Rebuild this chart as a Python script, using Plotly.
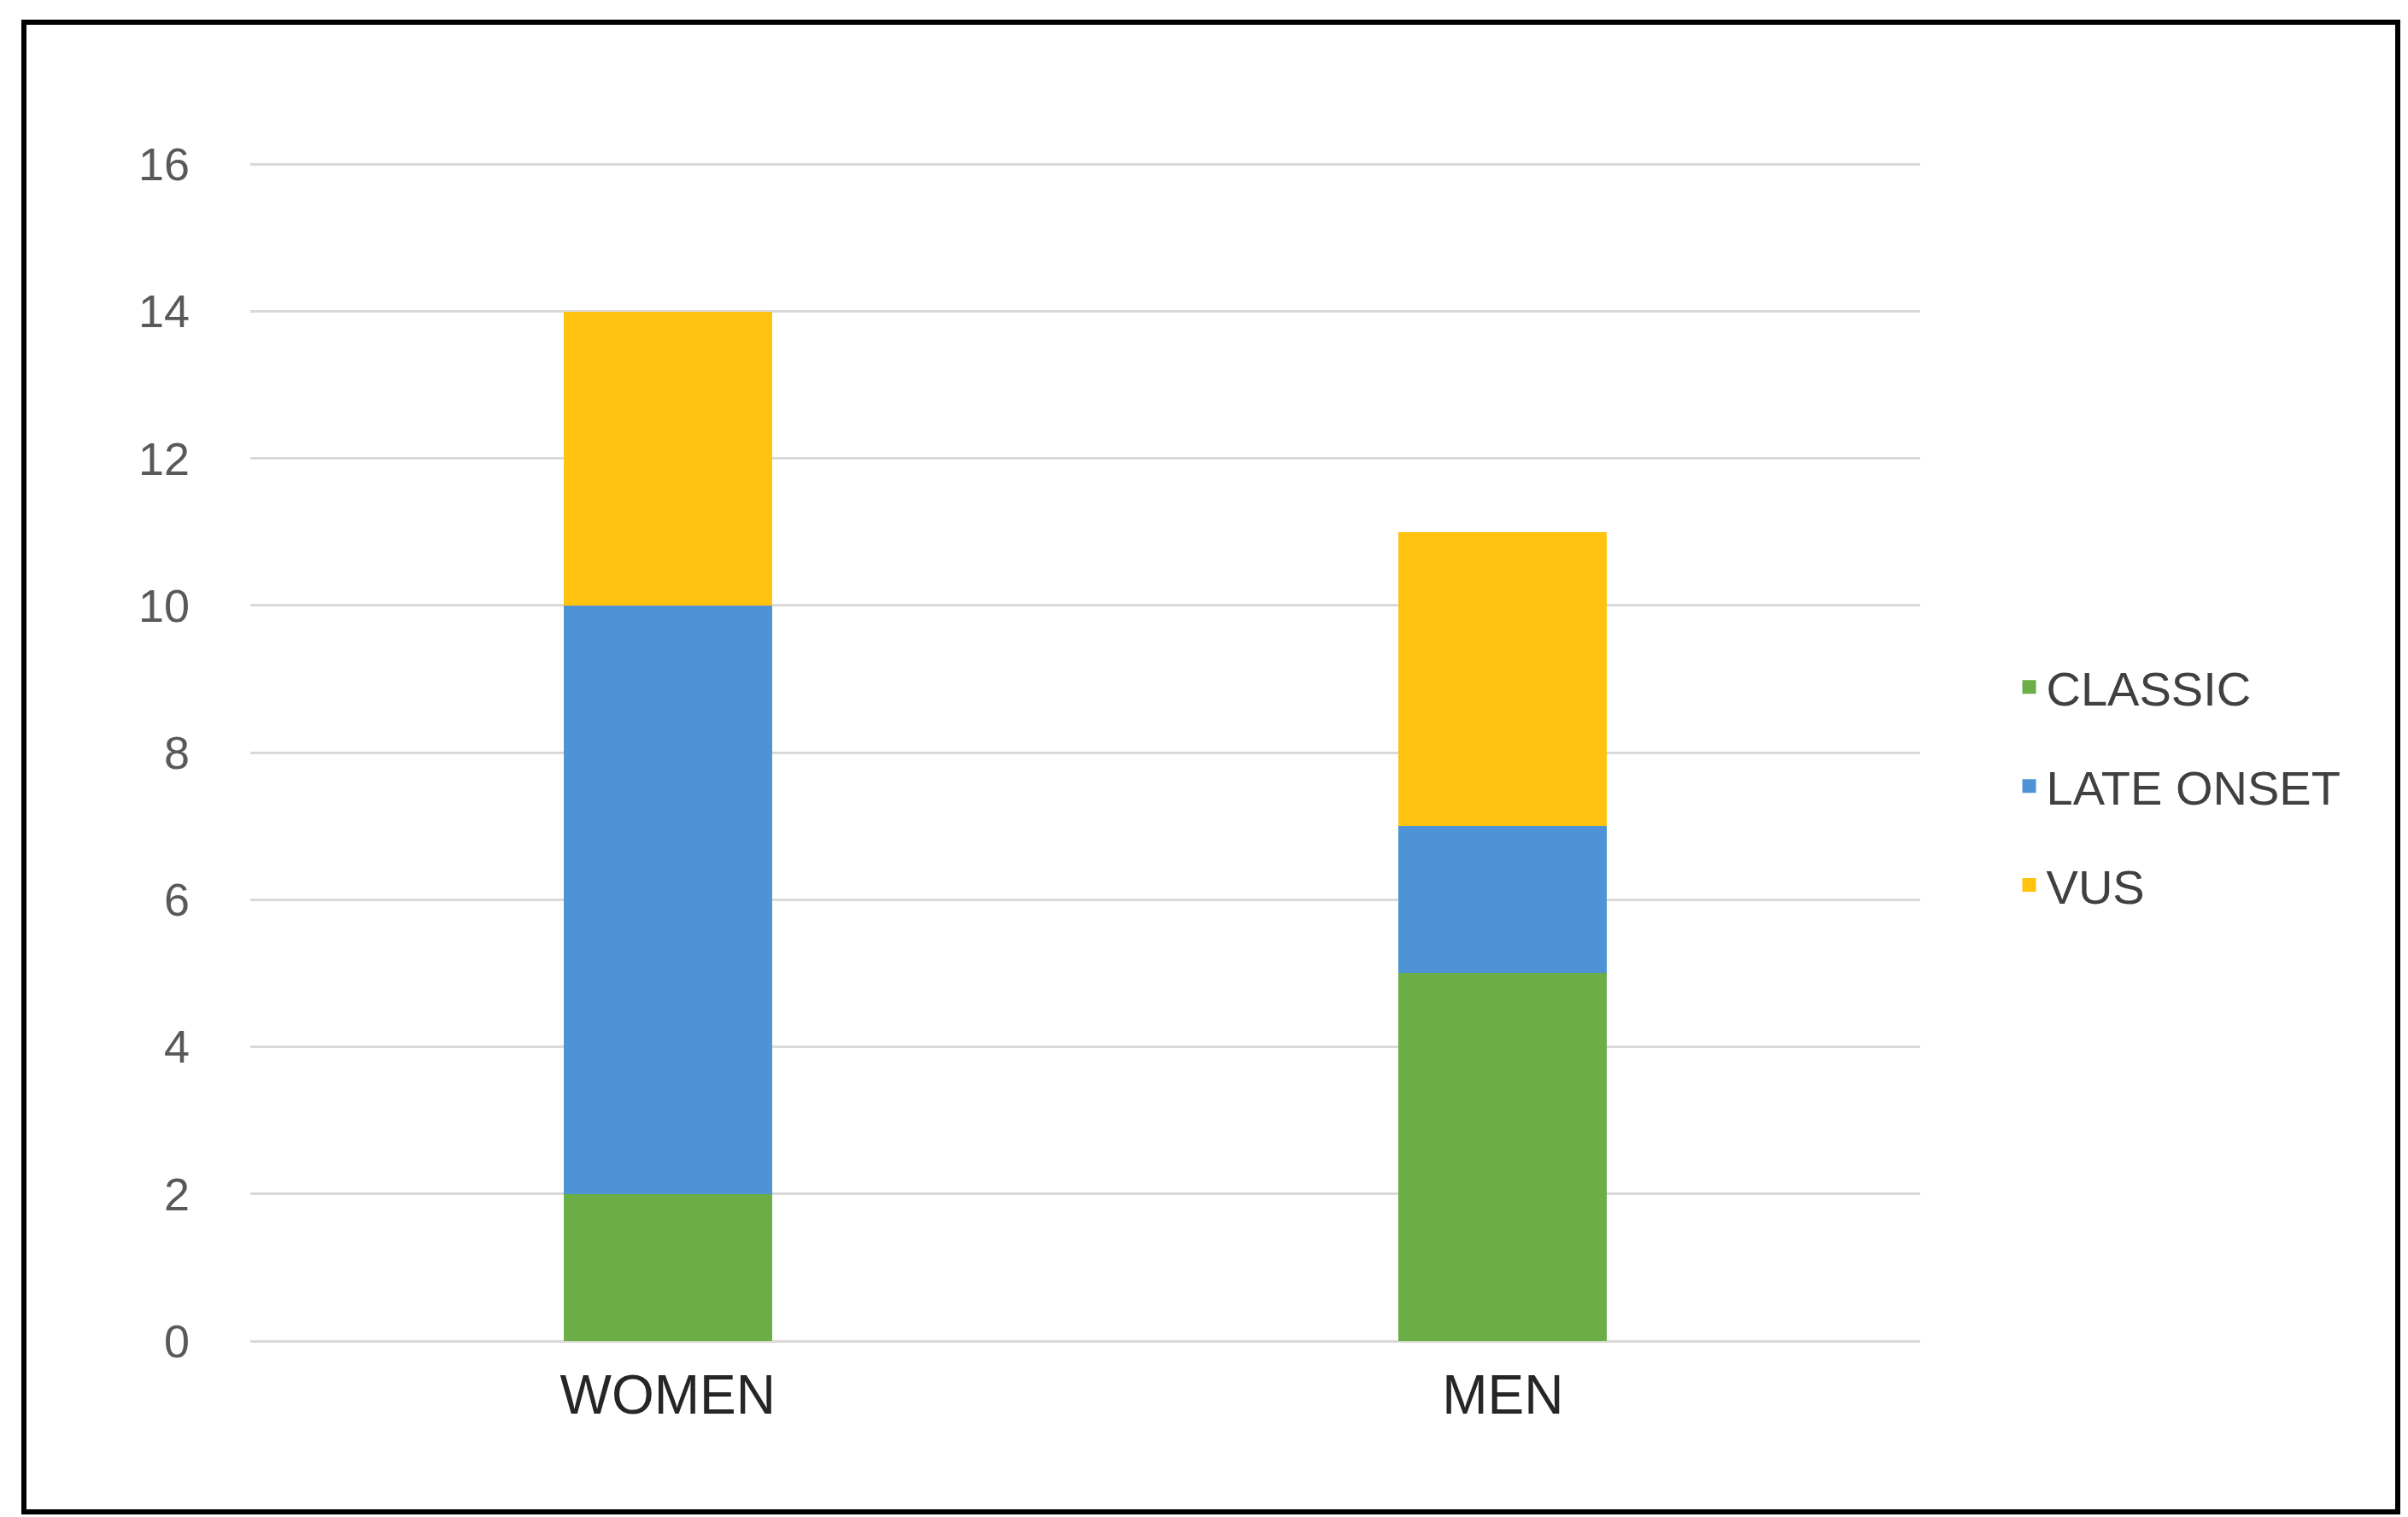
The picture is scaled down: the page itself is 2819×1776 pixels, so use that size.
import plotly.graph_objects as go

categories = ["WOMEN", "MEN"]
classic = [2, 5]
late_onset = [8, 2]
vus = [4, 4]
y_ticks = [0, 2, 4, 6, 8, 10, 12, 14, 16]

W, H = 2819, 1776
L, R, T, B = 285, 579, 180, 214

series = [("CLASSIC", classic, "#6AAE45"), ("LATE ONSET", late_onset, "#4D93D6"), ("VUS", vus, "#FFC20E")]

fig = go.Figure()
for name, vals, col in series:
    fig.add_bar(x=categories, y=vals, name=name, marker_color=col, marker_line_width=0,
                showlegend=False, legendgroup=name)
for name, vals, col in series:
    fig.add_scatter(x=[None], y=[None], mode="markers", name=name, legendgroup=name,
                    marker=dict(symbol="square", size=34, color=col))

fig.update_layout(
    width=W, height=H, autosize=False,
    margin=dict(l=L, r=R, t=T, b=B),
    barmode="stack", bargap=0.75,
    plot_bgcolor="white", paper_bgcolor="white",
    font=dict(family="Liberation Sans, Arial", color="#595959"),
    xaxis=dict(showgrid=False, showline=False, ticks="", tickfont=dict(size=64, color="#262626"),
               ticklabelstandoff=20),
    yaxis=dict(range=[0, 16.05], tickvals=y_ticks, showgrid=True, gridcolor="#D9D9D9", gridwidth=3,
               zeroline=True, zerolinecolor="#D9D9D9", zerolinewidth=3,
               tickfont=dict(size=54, color="#595959"), ticks="", ticklabelstandoff=70),
    legend=dict(x=1.055, y=0.47, xanchor="left", yanchor="middle", traceorder="reversed+grouped",
                font=dict(size=56, color="#404040"), itemwidth=30, tracegroupgap=40),
    showlegend=True,
    shapes=[dict(type="rect", xref="paper", yref="paper",
                 x0=-(L - 20) / (W - L - R), x1=1 + (R - 20) / (W - L - R),
                 y0=-(B - 14) / (H - T - B), y1=1 + (T - 18) / (H - T - B),
                 line=dict(color="black", width=6))],
)
fig.write_html("out.html")
